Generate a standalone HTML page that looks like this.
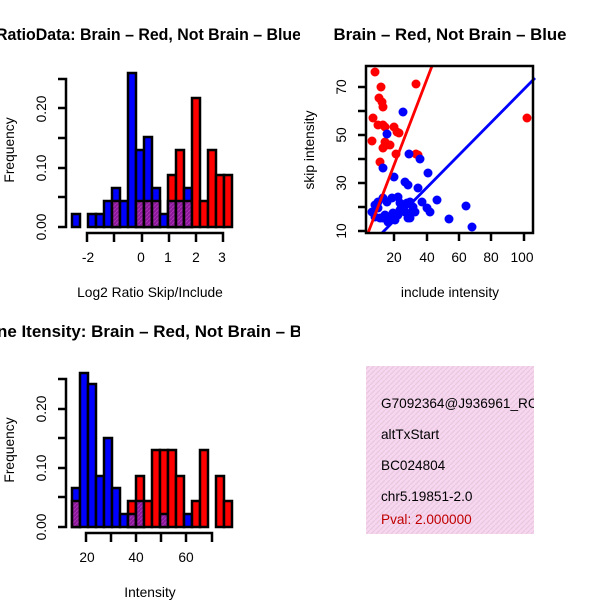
<!DOCTYPE html>
<html><head><meta charset="utf-8"><style>body{margin:0;background:#fff}svg{display:block}</style></head><body>
<svg width="600" height="600" xmlns="http://www.w3.org/2000/svg" font-family="Liberation Sans, sans-serif">
<defs>
<clipPath id="cl"><rect x="0" y="0" width="300" height="600"/></clipPath>
<clipPath id="cb"><rect x="366" y="366" width="168" height="168"/></clipPath>
<pattern id="pp" width="4" height="4" patternUnits="userSpaceOnUse"><rect width="4" height="4" fill="#8a1a9a"/><path d="M0,4 L4,0" stroke="#b030b8" stroke-width="1"/></pattern>
<pattern id="pk" width="5" height="5" patternUnits="userSpaceOnUse"><rect width="5" height="5" fill="#f7d6f2"/><path d="M-1,6 L6,-1" stroke="#e8c8dc" stroke-width="1.3"/></pattern>
</defs>
<g font-weight="bold" font-size="16.5" clip-path="url(#cl)">
<text x="-4" y="40" textLength="305" lengthAdjust="spacingAndGlyphs">RatioData: Brain – Red, Not Brain – Blue</text>
<text x="-3" y="337" textLength="305" lengthAdjust="spacingAndGlyphs">ne Itensity: Brain – Red, Not Brain – B</text>
</g>
<text x="450" y="40" font-weight="bold" font-size="16.5" text-anchor="middle" textLength="233" lengthAdjust="spacingAndGlyphs">Brain – Red, Not Brain – Blue</text>

<!-- top hist -->
<g stroke="#000" stroke-width="2.5">
<rect x="72" y="214" width="8" height="13" fill="#00f"/>
<rect x="88" y="214" width="8" height="13" fill="#00f"/>
<rect x="96" y="214" width="8" height="13" fill="#00f"/>
<rect x="104" y="201" width="8" height="26" fill="#00f"/>
<rect x="112" y="188" width="8" height="39" fill="#00f"/>
<rect x="112" y="201" width="8" height="26" fill="url(#pp)"/>
<rect x="120" y="201" width="8" height="26" fill="#00f"/>
<rect x="128" y="73" width="8" height="154" fill="#00f"/>
<rect x="136" y="150" width="8" height="77" fill="#00f"/>
<rect x="136" y="201" width="8" height="26" fill="url(#pp)"/>
<rect x="144" y="137" width="8" height="90" fill="#00f"/>
<rect x="144" y="201" width="8" height="26" fill="url(#pp)"/>
<rect x="152" y="188" width="8" height="39" fill="#00f"/>
<rect x="152" y="201" width="8" height="26" fill="url(#pp)"/>
<rect x="160" y="214" width="8" height="13" fill="#00f"/>
<rect x="168" y="175" width="8" height="52" fill="#f00"/>
<rect x="168" y="201" width="8" height="26" fill="url(#pp)"/>
<rect x="176" y="150" width="8" height="77" fill="#f00"/>
<rect x="176" y="201" width="8" height="26" fill="url(#pp)"/>
<rect x="184" y="188" width="8" height="39" fill="#00f"/>
<rect x="184" y="201" width="8" height="26" fill="url(#pp)"/>
<rect x="192" y="98" width="8" height="129" fill="#f00"/>
<rect x="200" y="201" width="8" height="26" fill="#f00"/>
<rect x="208" y="150" width="8" height="77" fill="#f00"/>
<rect x="216" y="175" width="8" height="52" fill="#f00"/>
<rect x="224" y="175" width="8" height="52" fill="#f00"/>
</g>
<g stroke="#000" stroke-width="2.5" fill="none">
<path d="M58,79 H66 V227 H58 M58,197 H66 M58,168 H66 M58,138 H66 M58,108 H66"/>
<path d="M87,242 V233 H223 V242 M114,233 V242 M142,233 V242 M169,233 V242 M196,233 V242"/>
</g>
<g font-size="13.8" text-anchor="middle">
<text transform="translate(46,227) rotate(-90)">0.00</text>
<text transform="translate(46,168) rotate(-90)">0.10</text>
<text transform="translate(46,109) rotate(-90)">0.20</text>
<text transform="translate(14,150) rotate(-90)">Frequency</text>
<text x="88" y="262">-2</text><text x="141" y="262">0</text><text x="168" y="262">1</text><text x="196" y="262">2</text><text x="222" y="262">3</text>
<text x="150" y="297">Log2 Ratio Skip/Include</text>
</g>

<!-- bottom hist -->
<g stroke="#000" stroke-width="2.5">
<rect x="72" y="488" width="8" height="39" fill="#00f"/>
<rect x="72" y="501" width="8" height="26" fill="url(#pp)"/>
<rect x="80" y="373" width="8" height="154" fill="#00f"/>
<rect x="88" y="384" width="8" height="143" fill="#00f"/>
<rect x="96" y="476" width="8" height="51" fill="#00f"/>
<rect x="104" y="438" width="8" height="89" fill="#00f"/>
<rect x="112" y="488" width="8" height="39" fill="#00f"/>
<rect x="120" y="514" width="8" height="13" fill="#00f"/>
<rect x="128" y="501" width="8" height="26" fill="#f00"/>
<rect x="128" y="514" width="8" height="13" fill="url(#pp)"/>
<rect x="136" y="476" width="8" height="51" fill="#f00"/>
<rect x="136" y="501" width="8" height="26" fill="url(#pp)"/>
<rect x="144" y="501" width="8" height="26" fill="#f00"/>
<rect x="152" y="450" width="8" height="77" fill="#f00"/>
<rect x="160" y="450" width="8" height="77" fill="#f00"/>
<rect x="160" y="514" width="8" height="13" fill="url(#pp)"/>
<rect x="168" y="450" width="8" height="77" fill="#f00"/>
<rect x="176" y="476" width="8" height="51" fill="#f00"/>
<rect x="184" y="514" width="8" height="13" fill="#00f"/>
<rect x="192" y="501" width="8" height="26" fill="#f00"/>
<rect x="200" y="450" width="8" height="77" fill="#f00"/>
<rect x="216" y="476" width="8" height="51" fill="#f00"/>
<rect x="224" y="501" width="8" height="26" fill="#f00"/>
</g>
<g stroke="#000" stroke-width="2.5" fill="none">
<path d="M58,379 H66 V527 H58 M58,497 H66 M58,468 H66 M58,438 H66 M58,409 H66"/>
<path d="M86,542 V533 H212 V542 M111,533 V542 M136,533 V542 M161,533 V542 M186,533 V542"/>
</g>
<g font-size="13.8" text-anchor="middle">
<text transform="translate(46,527) rotate(-90)">0.00</text>
<text transform="translate(46,468) rotate(-90)">0.10</text>
<text transform="translate(46,409) rotate(-90)">0.20</text>
<text transform="translate(14,450) rotate(-90)">Frequency</text>
<text x="87" y="562">20</text><text x="136" y="562">40</text><text x="186" y="562">60</text>
<text x="150" y="597">Intensity</text>
</g>

<!-- scatter -->
<g fill="#f00">
<circle cx="375" cy="72" r="4.5"/><circle cx="381" cy="87" r="4.5"/><circle cx="373" cy="118" r="4.5"/><circle cx="372" cy="141" r="4.5"/><circle cx="379" cy="98" r="4.5"/><circle cx="382" cy="102" r="4.5"/><circle cx="383" cy="107" r="4.5"/><circle cx="378" cy="125" r="4.5"/><circle cx="383" cy="125" r="4.5"/><circle cx="385" cy="127" r="4.5"/><circle cx="380" cy="162" r="4.5"/><circle cx="394" cy="127" r="4.5"/><circle cx="397" cy="132" r="4.5"/><circle cx="399" cy="133" r="4.5"/><circle cx="387" cy="145" r="4.5"/><circle cx="390" cy="145" r="4.5"/><circle cx="383" cy="148" r="4.5"/><circle cx="385" cy="142" r="4.5"/><circle cx="396" cy="154" r="4.5"/><circle cx="416" cy="84" r="4.5"/><circle cx="416" cy="154" r="4.5"/><circle cx="418" cy="155" r="4.5"/><circle cx="527" cy="118" r="4.5"/>
</g>
<g fill="#00f">
<circle cx="403" cy="112" r="4.5"/><circle cx="387" cy="134" r="4.5"/><circle cx="383" cy="168" r="4.5"/><circle cx="394" cy="177" r="4.5"/><circle cx="409" cy="154" r="4.5"/><circle cx="420" cy="159" r="4.5"/><circle cx="428" cy="173" r="4.5"/><circle cx="418" cy="188" r="4.5"/><circle cx="405" cy="182" r="4.5"/><circle cx="408" cy="185" r="4.5"/><circle cx="437" cy="200" r="4.5"/><circle cx="466" cy="206" r="4.5"/><circle cx="449" cy="219" r="4.5"/><circle cx="472" cy="227" r="4.5"/><circle cx="422" cy="202" r="4.5"/><circle cx="427" cy="208" r="4.5"/><circle cx="430" cy="212" r="4.5"/><circle cx="372" cy="212" r="4.5"/><circle cx="375" cy="205" r="4.5"/><circle cx="378" cy="202" r="4.5"/><circle cx="383" cy="198" r="4.5"/><circle cx="387" cy="202" r="4.5"/><circle cx="392" cy="198" r="4.5"/><circle cx="398" cy="197" r="4.5"/><circle cx="400" cy="203" r="4.5"/><circle cx="403" cy="207" r="4.5"/><circle cx="407" cy="203" r="4.5"/><circle cx="410" cy="202" r="4.5"/><circle cx="412" cy="212" r="4.5"/><circle cx="415" cy="212" r="4.5"/><circle cx="398" cy="215" r="4.5"/><circle cx="395" cy="220" r="4.5"/><circle cx="390" cy="218" r="4.5"/><circle cx="385" cy="215" r="4.5"/><circle cx="380" cy="218" r="4.5"/><circle cx="375" cy="217" r="4.5"/><circle cx="410" cy="218" r="4.5"/><circle cx="405" cy="212" r="4.5"/><circle cx="400" cy="210" r="4.5"/><circle cx="388" cy="222" r="4.5"/><circle cx="378" cy="208" r="4.5"/><circle cx="408" cy="218" r="4.5"/><circle cx="413" cy="207" r="4.5"/><circle cx="393" cy="213" r="4.5"/><circle cx="383" cy="218" r="4.5"/>
</g>
<line x1="368" y1="233" x2="432" y2="66" stroke="#f00" stroke-width="2.8"/>
<line x1="382" y1="233" x2="535" y2="78" stroke="#00f" stroke-width="2.8"/>
<g stroke="#000" stroke-width="2.5" fill="none">
<rect x="366" y="66" width="167" height="167"/>
<path d="M358,231 H366 M358,207 H366 M358,183 H366 M358,159 H366 M358,135 H366 M358,111 H366 M358,87 H366"/>
<path d="M394,233 V241 M427,233 V241 M459,233 V241 M491,233 V241 M524,233 V241"/>
</g>
<g font-size="13.8" text-anchor="middle">
<text transform="translate(346,231) rotate(-90)">10</text>
<text transform="translate(346,183) rotate(-90)">30</text>
<text transform="translate(346,135) rotate(-90)">50</text>
<text transform="translate(346,87) rotate(-90)">70</text>
<text transform="translate(314,150) rotate(-90)">skip intensity</text>
<text x="394" y="262">20</text><text x="427" y="262">40</text><text x="459" y="262">60</text><text x="491" y="262">80</text><text x="522" y="262">100</text>
<text x="450" y="297">include intensity</text>
</g>

<!-- text box -->
<rect x="366" y="366" width="168" height="168" fill="url(#pk)"/>
<g font-size="13.6" clip-path="url(#cb)">
<text x="381" y="408">G7092364@J936961_RC</text>
<text x="381" y="439">altTxStart</text>
<text x="381" y="470">BC024804</text>
<text x="381" y="501">chr5.19851-2.0</text>
<text x="381" y="524" fill="#c00000">Pval: 2.000000</text>
</g>
</svg>
</body></html>
